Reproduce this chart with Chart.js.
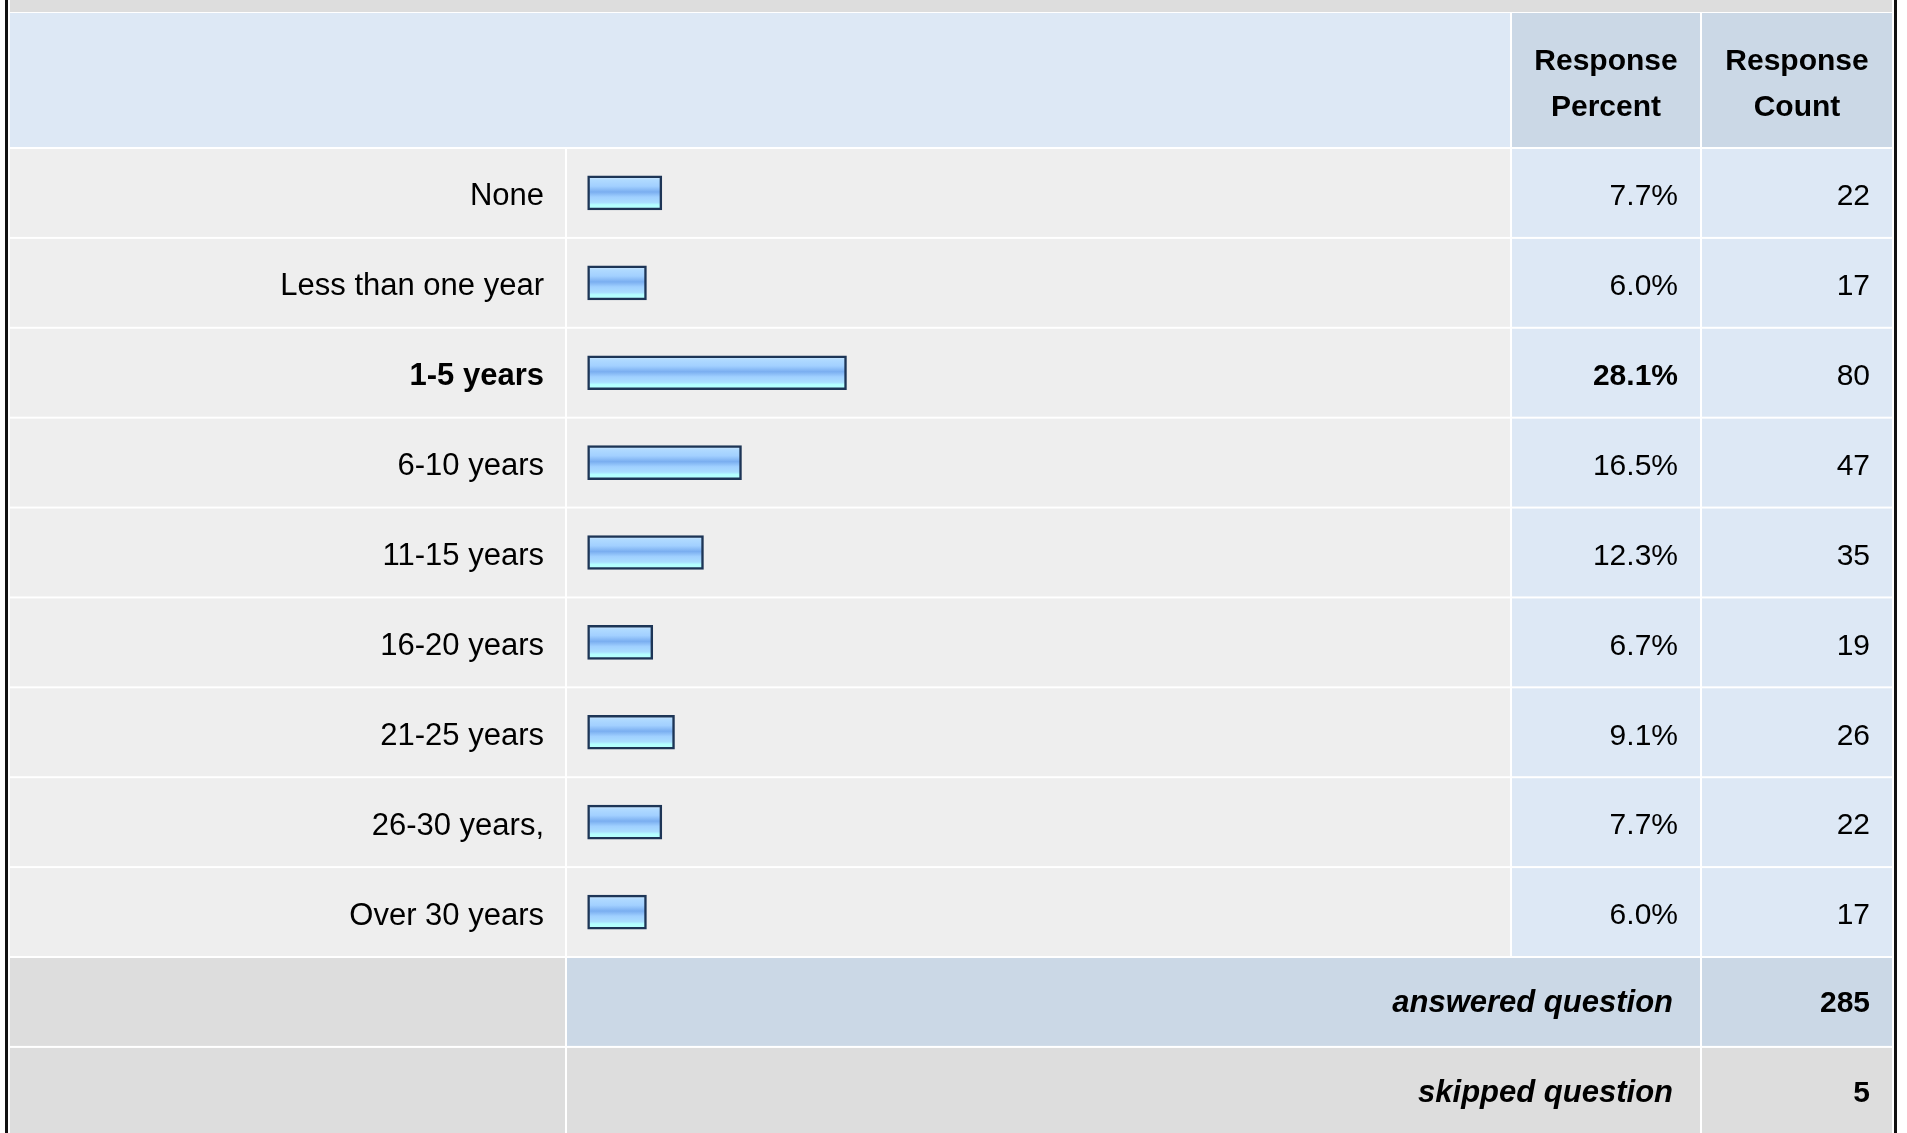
<!DOCTYPE html>
<html>
<head>
<meta charset="utf-8">
<title>Years of experience</title>
<script src="https://cdn.jsdelivr.net/npm/chart.js@4.4.1/dist/chart.umd.min.js"></script>
<style>
  html, body { margin: 0; padding: 0; background: #fff; }
  canvas { display: block; }
</style>
</head>
<body>
<canvas id="surveyChart" width="1907" height="1133"></canvas>
<script>
// survey answers
const categories = ['None', 'Less than one year', '1-5 years', '6-10 years', '11-15 years',
  '16-20 years', '21-25 years', '26-30 years,', 'Over 30 years'];
const responsePercent = [7.7, 6.0, 28.1, 16.5, 12.3, 6.7, 9.1, 7.7, 6.0];
const responseCount = [22, 17, 80, 47, 35, 19, 26, 22, 17];
const headerLabels = [['Response', 'Percent'], ['Response', 'Count']];
const summaryLabels = ['answered question', 'skipped question'];
const summaryCounts = [285, 5];

const FONT = '"Liberation Sans", Arial, Helvetica, sans-serif';
const maxIdx = responsePercent.indexOf(Math.max(...responsePercent));

const COLORS = {
  band: '#dddddd',
  headLight: '#dde8f5',
  headDark: '#cbd8e6',
  cell: '#eeeeee',
  valueCell: '#dde8f5',
  border: '#111111'
};

// table edges / columns (px)
const EDGE_L = 10, EDGE_R = 1892, PCT_R = 1700, GAP = 2;

function barGradient(context) {
  const chart = context.chart;
  if (!chart.chartArea) return '#9ccbff';
  const yc = chart.scales.y.getPixelForValue(context.dataIndex);
  const g = chart.ctx.createLinearGradient(0, yc - 17, 0, yc + 17);
  g.addColorStop(0, '#d8eeff');
  g.addColorStop(0.12, '#b0daff');
  g.addColorStop(0.3, '#a2d0ff');
  g.addColorStop(0.47, '#7aaef0');
  g.addColorStop(0.62, '#a0d0ff');
  g.addColorStop(0.78, '#aadeff');
  g.addColorStop(0.85, '#b4ffff');
  g.addColorStop(1, '#b4ffff');
  return g;
}

const tablePlugin = {
  id: 'surveyTable',
  beforeDraw(chart) {
    const { ctx, chartArea: a } = chart;
    const h = (a.bottom - a.top) / categories.length;
    ctx.save();
    ctx.fillStyle = '#ffffff';
    ctx.fillRect(0, 0, chart.width, chart.height);

    // top band + header
    ctx.fillStyle = COLORS.band;
    ctx.fillRect(EDGE_L, 0, EDGE_R - EDGE_L, a.top - 136);
    ctx.fillStyle = COLORS.headLight;
    ctx.fillRect(EDGE_L, a.top - 135, a.right - EDGE_L, 134);
    ctx.fillStyle = COLORS.headDark;
    ctx.fillRect(a.right + GAP, a.top - 135, PCT_R - a.right - GAP, 134);
    ctx.fillRect(PCT_R + GAP, a.top - 135, EDGE_R - PCT_R - GAP, 134);

    // answer rows
    categories.forEach((c, i) => {
      const top = a.top + i * h + 1, hh = h - GAP;
      ctx.fillStyle = COLORS.cell;
      ctx.fillRect(EDGE_L, top, a.left - EDGE_L, hh);
      ctx.fillRect(a.left + GAP, top, a.right - a.left - GAP, hh);
      ctx.fillStyle = COLORS.valueCell;
      ctx.fillRect(a.right + GAP, top, PCT_R - a.right - GAP, hh);
      ctx.fillRect(PCT_R + GAP, top, EDGE_R - PCT_R - GAP, hh);
    });

    // summary rows
    summaryLabels.forEach((s, i) => {
      const top = a.bottom + i * h + 1, hh = h - GAP;
      ctx.fillStyle = COLORS.band;
      ctx.fillRect(EDGE_L, top, a.left - EDGE_L, hh);
      ctx.fillStyle = i === 0 ? COLORS.headDark : COLORS.band;
      ctx.fillRect(a.left + GAP, top, PCT_R - a.left - GAP, hh);
      ctx.fillRect(PCT_R + GAP, top, EDGE_R - PCT_R - GAP, hh);
    });

    // outer frame lines
    ctx.fillStyle = COLORS.border;
    ctx.fillRect(5, 0, 3, chart.height);
    ctx.fillRect(EDGE_R + 2, 0, 3, chart.height);
    ctx.restore();
  },
  afterDraw(chart) {
    const { ctx, chartArea: a, scales: { y } } = chart;
    const h = (a.bottom - a.top) / categories.length;
    const pctCenter = (a.right + GAP + PCT_R) / 2;
    const cntCenter = (PCT_R + GAP + EDGE_R) / 2;
    ctx.save();
    ctx.fillStyle = '#000';

    // header
    ctx.font = 'bold 30px ' + FONT;
    ctx.textAlign = 'center';
    ctx.textBaseline = 'alphabetic';
    [pctCenter, cntCenter].forEach((cx, k) => {
      ctx.fillText(headerLabels[k][0], cx, a.top - 78);
      ctx.fillText(headerLabels[k][1], cx, a.top - 32);
    });

    // values (only the percent of the top answer is bold)
    ctx.textAlign = 'right';
    ctx.textBaseline = 'middle';
    categories.forEach((c, i) => {
      const yc = y.getPixelForValue(i) + 4;
      ctx.font = (i === maxIdx ? 'bold ' : '') + '30px ' + FONT;
      ctx.fillText(responsePercent[i].toFixed(1) + '%', PCT_R - 22, yc);
      ctx.font = '30px ' + FONT;
      ctx.fillText(String(responseCount[i]), EDGE_R - 22, yc);
    });

    // summary
    summaryLabels.forEach((s, i) => {
      const yc = a.bottom + i * h + h / 2 + 2;
      ctx.font = 'italic bold 31px ' + FONT;
      ctx.fillText(s, PCT_R - 27, yc);
      ctx.font = 'bold 30px ' + FONT;
      ctx.fillText(String(summaryCounts[i]), EDGE_R - 22, yc);
    });
    ctx.restore();
  }
};

new Chart(document.getElementById('surveyChart'), {
  type: 'bar',
  data: {
    labels: categories,
    datasets: [{
      data: responsePercent,
      base: -0.5,
      barThickness: 34,
      borderWidth: 2.5,
      borderColor: '#1d3556',
      borderSkipped: false,
      backgroundColor: barGradient
    }]
  },
  options: {
    indexAxis: 'y',
    responsive: false,
    animation: false,
    events: [],
    layout: { padding: { left: 8, right: 397, top: 148, bottom: 176 } },
    plugins: {
      legend: { display: false },
      tooltip: { enabled: false }
    },
    scales: {
      x: { display: false, min: -3, max: 101.4 },
      y: {
        grid: { display: false, drawTicks: false },
        border: { display: false },
        afterFit(scale) { scale.width = 557; },
        ticks: {
          padding: 21,
          labelOffset: 4,
          color: '#000',
          font: (c) => ({ family: FONT, size: 31, weight: c.index === maxIdx ? 'bold' : 'normal' })
        }
      }
    }
  },
  plugins: [tablePlugin]
});
</script>
</body>
</html>
